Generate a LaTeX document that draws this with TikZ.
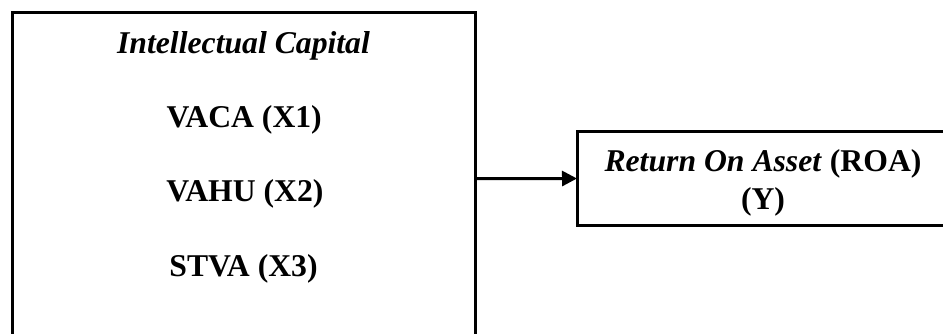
\documentclass[tikz,border=0pt]{standalone}
\usepackage{fontspec}
\setmainfont{Liberation Serif}
\usetikzlibrary{arrows.meta}

\tikzset{
  frame/.style={draw=black, line width=3pt, inner sep=0pt, outer sep=0pt},
  label/.style={anchor=base, inner sep=0pt, font=\fontsize{31.7}{38}\selectfont\bfseries},
  link/.style={line width=3pt, -{Triangle[length=15pt,width=15pt]}}
}

\begin{document}
\begin{tikzpicture}[x=1pt, y=-1pt]
  \useasboundingbox (0,0) rectangle (943,334);
  \clip (0,0) rectangle (943,334);

  % independent variable block (runs past the lower edge)
  \node[frame, minimum width=463pt, minimum height=332.5pt] (ic) at (244,178.75) {};
  \node[label] (ictitle) at (243.5,53.3) {\itshape Intellectual Capital};
  \node[label] (x1) at (244.2,127.7) {VACA (X1)};
  \node[label] (x2) at (245,201.7) {VAHU (X2)};
  \node[label] (x3) at (243.5,276) {STVA (X3)};

  % dependent variable block (runs past the right edge)
  \node[frame, minimum width=373pt, minimum height=93.5pt] (roa) at (763.5,178.5) {};
  \node[label] (roatitle) at (763,171.7) {\textit{Return On Asset} (ROA)};
  \node[label] (y) at (763,210) {(Y)};

  \draw[link] (ic.east) -- (roa.west);
\end{tikzpicture}
\end{document}
